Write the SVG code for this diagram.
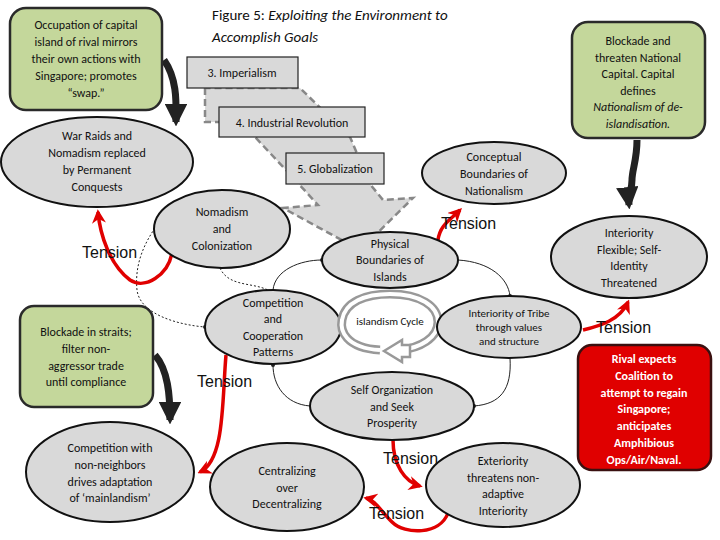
<svg xmlns="http://www.w3.org/2000/svg" width="720" height="540" viewBox="0 0 720 540">
<defs>
<style>
.t{font-family:Calibri,"Liberation Sans",sans-serif;font-size:12px;fill:#111;text-anchor:middle}
.ten{font-family:"Liberation Sans",sans-serif;font-size:16px;fill:#111}
.el{fill:#d9d9d9;stroke:#111;stroke-width:2}
.gb{fill:#c4d79b;stroke:#2a2a2a;stroke-width:2.5}
.box{fill:#d9d9d9;stroke:#222;stroke-width:1.2}
.red{fill:none;stroke:#e00000;stroke-width:3.5}
.blk{fill:none;stroke:#222;stroke-width:7}
.thin{fill:none;stroke:#222;stroke-width:1}
</style>
<marker id="ra" viewBox="0 0 10 10" refX="8" refY="5" markerWidth="4" markerHeight="4" orient="auto"><path d="M0,0 L10,5 L0,10 L3,5z" fill="#e00000"/></marker>
<marker id="ba" viewBox="0 0 10 10" refX="8" refY="5" markerWidth="3.2" markerHeight="3.2" orient="auto"><path d="M0,0 L10,5 L0,10z" fill="#222"/></marker>
<marker id="dot" viewBox="0 0 4 4" refX="2" refY="2" markerWidth="4" markerHeight="4"><circle cx="2" cy="2" r="2" fill="#222"/></marker>
</defs>

<g id="bigarrow">
<polygon points="205,88 205,122 219,122 255,137 286,170 318,205 283,208 360,250 413,198 383,200 370,184 350,137 300,88" fill="#d9d9d9" stroke="#888" stroke-width="2.5" stroke-dasharray="7,4"/>
</g>

<g id="title">
<text x="212" y="20" style="font-family:Calibri,'Liberation Sans',sans-serif;font-size:15px;fill:#111">Figure 5: <tspan font-style="italic">Exploiting the Environment to</tspan></text>
<text x="212" y="42" style="font-family:Calibri,'Liberation Sans',sans-serif;font-size:15px;fill:#111;font-style:italic">Accomplish Goals</text>
</g>

<g id="connectors">
<path class="thin" d="M273,290 C275,270 300,260 322,260" marker-end="url(#dot)"/>
<path class="thin" d="M458,260 C490,262 508,278 510,296" marker-end="url(#dot)"/>
<path class="thin" d="M510,358 C512,390 500,404 474,406" marker-end="url(#dot)"/>
<path class="thin" d="M310,406 C285,404 273,385 273,365" marker-end="url(#dot)"/>
<path class="thin" d="M220,268 C230,290 260,280 275,295" stroke-dasharray="2,2"/>
<path class="thin" d="M155,228 C140,250 135,270 137,290 C140,315 180,325 205,327" stroke-dasharray="2,2" marker-end="url(#dot)"/>
<path class="blk" d="M164,60 C178,80 176,105 176,122" marker-end="url(#ba)"/>
<path class="blk" d="M637,140 C637,160 632,170 632,180 C632,190 628,195 629,205" marker-end="url(#ba)"/>
<path class="blk" d="M155,355 C168,370 170,395 170,420" marker-end="url(#ba)"/>
<path class="red" d="M172,253 C168,275 145,290 130,280 C110,265 100,235 98,212" marker-end="url(#ra)"/>
<path class="red" d="M438,240 C440,225 450,220 460,210" marker-end="url(#ra)"/>
<path class="red" d="M583,330 C600,326 620,320 628,302" marker-end="url(#ra)"/>
<path class="red" d="M226,355 C222,400 225,460 200,472" marker-end="url(#ra)"/>
<path class="red" d="M393,440 C393,465 405,482 420,486" marker-end="url(#ra)"/>
<path class="red" d="M448,513 C440,535 405,535 392,522 C380,510 375,500 366,498" marker-end="url(#ra)"/>
</g>

<g id="n-imperialism"><rect class="box" x="187" y="57" width="111" height="31"/><text class="t" x="242" y="77">3. Imperialism</text></g>
<g id="n-industrial"><rect class="box" x="219" y="107" width="146" height="30"/><text class="t" x="292" y="127">4. Industrial Revolution</text></g>
<g id="n-global"><rect class="box" x="286" y="153" width="98" height="31"/><text class="t" x="335" y="173">5. Globalization</text></g>

<g id="n-green1"><rect class="gb" x="10" y="8" width="152" height="102" rx="16"/>
<text class="t" x="86" y="29">Occupation of capital</text><text class="t" x="86" y="46">island of rival mirrors</text><text class="t" x="86" y="63">their own actions with</text><text class="t" x="86" y="80">Singapore; promotes</text><text class="t" x="86" y="97">“swap.”</text></g>

<g id="n-green2"><rect class="gb" x="572" y="22" width="133" height="116" rx="16"/>
<text class="t" x="638" y="45">Blockade and</text><text class="t" x="638" y="62">threaten National</text><text class="t" x="638" y="78">Capital. Capital</text><text class="t" x="638" y="95">defines</text><text class="t" x="638" y="111" font-style="italic">Nationalism of de-</text><text class="t" x="638" y="128" font-style="italic">islandisation.</text></g>

<g id="n-warraids"><ellipse class="el" cx="97" cy="162" rx="96" ry="45"/>
<text class="t" x="97" y="140">War Raids and</text><text class="t" x="97" y="157">Nomadism replaced</text><text class="t" x="97" y="174">by Permanent</text><text class="t" x="97" y="191">Conquests</text></g>

<g id="n-nomadism"><ellipse class="el" cx="222" cy="229" rx="68" ry="39"/>
<text class="t" x="222" y="216">Nomadism</text><text class="t" x="222" y="233">and</text><text class="t" x="222" y="250">Colonization</text></g>

<g id="n-conceptual"><ellipse class="el" cx="494" cy="173" rx="72" ry="31"/>
<text class="t" x="494" y="161">Conceptual</text><text class="t" x="494" y="178">Boundaries of</text><text class="t" x="494" y="195">Nationalism</text></g>

<g id="n-physical"><ellipse class="el" cx="390" cy="260" rx="68" ry="28"/>
<text class="t" x="390" y="248">Physical</text><text class="t" x="390" y="264">Boundaries of</text><text class="t" x="390" y="281">Islands</text></g>

<g id="n-intflex"><ellipse class="el" cx="629" cy="257" rx="78" ry="41"/>
<text class="t" x="629" y="237">Interiority</text><text class="t" x="629" y="254">Flexible; Self-</text><text class="t" x="629" y="270">Identity</text><text class="t" x="629" y="287">Threatened</text></g>

<g id="n-compcoop"><ellipse class="el" cx="273" cy="327" rx="68" ry="37"/>
<text class="t" x="273" y="307">Competition</text><text class="t" x="273" y="323">and</text><text class="t" x="273" y="340">Cooperation</text><text class="t" x="273" y="356">Patterns</text></g>

<g id="n-cycle">
<path d="M380,350 C345,348 340,330 342,320 C345,302 365,294 390,294 C420,294 438,306 438,322 C438,338 420,348 400,350" fill="none" stroke="#999" stroke-width="9"/>
<path d="M380,350 C345,348 340,330 342,320 C345,302 365,294 390,294 C420,294 438,306 438,322 C438,338 420,348 400,350" fill="none" stroke="#fff" stroke-width="4"/>
<polygon points="384,351 402,340 402,345 410,345 410,357 402,357 402,362" fill="#fff" stroke="#999" stroke-width="2.5"/>
<text class="t" x="390" y="325" style="font-size:11px">islandism Cycle</text></g>

<g id="n-inttribe"><ellipse class="el" cx="509" cy="327" rx="72" ry="31"/>
<text class="t" x="509" y="317" style="font-size:11px">Interiority of Tribe</text><text class="t" x="509" y="331" style="font-size:11px">through values</text><text class="t" x="509" y="345" style="font-size:11px">and structure</text></g>

<g id="n-green3"><rect class="gb" x="20" y="306" width="133" height="101" rx="14"/>
<text class="t" x="86" y="336">Blockade in straits;</text><text class="t" x="86" y="353">filter non-</text><text class="t" x="86" y="370">aggressor trade</text><text class="t" x="86" y="386">until compliance</text></g>

<g id="n-selforg"><ellipse class="el" cx="392" cy="406" rx="82" ry="34"/>
<text class="t" x="392" y="394">Self Organization</text><text class="t" x="392" y="411">and Seek</text><text class="t" x="392" y="427">Prosperity</text></g>

<g id="n-compnon"><ellipse class="el" cx="110" cy="472" rx="84" ry="50"/>
<text class="t" x="110" y="452">Competition with</text><text class="t" x="110" y="469">non-neighbors</text><text class="t" x="110" y="486">drives adaptation</text><text class="t" x="110" y="502">of ‘mainlandism’</text></g>

<g id="n-central"><ellipse class="el" cx="287" cy="487" rx="77" ry="44"/>
<text class="t" x="287" y="475">Centralizing</text><text class="t" x="287" y="492">over</text><text class="t" x="287" y="508">Decentralizing</text></g>

<g id="n-exterior"><ellipse class="el" cx="503" cy="485" rx="77" ry="42"/>
<text class="t" x="503" y="465">Exteriority</text><text class="t" x="503" y="482">threatens non-</text><text class="t" x="503" y="498">adaptive</text><text class="t" x="503" y="515">Interiority</text></g>

<g id="n-red"><rect x="578" y="345" width="133" height="125" rx="14" fill="#e00000" stroke="#3a1010" stroke-width="2.5"/>
<g style="font-family:Calibri,'Liberation Sans',sans-serif;font-size:12px;font-weight:bold;fill:#fff;text-anchor:middle">
<text x="644" y="363">Rival expects</text><text x="644" y="380">Coalition to</text><text x="644" y="397">attempt to regain</text><text x="644" y="413">Singapore;</text><text x="644" y="430">anticipates</text><text x="644" y="447">Amphibious</text><text x="644" y="464">Ops/Air/Naval.</text></g></g>

<g id="tension-labels">
<text class="ten" x="82" y="258">Tension</text>
<text class="ten" x="441" y="229">Tension</text>
<text class="ten" x="596" y="333">Tension</text>
<text class="ten" x="197" y="387">Tension</text>
<text class="ten" x="383" y="464">Tension</text>
<text class="ten" x="369" y="519">Tension</text>
</g>
</svg>
